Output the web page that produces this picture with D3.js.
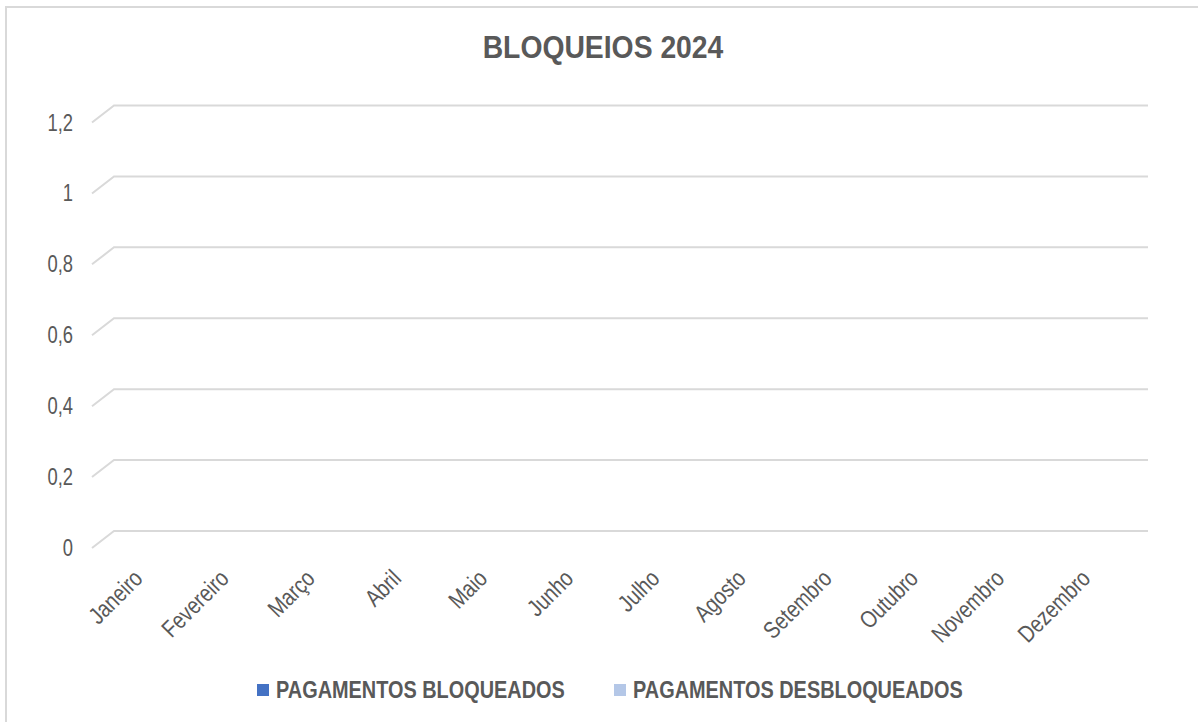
<!DOCTYPE html>
<html lang="pt">
<head>
<meta charset="utf-8">
<title>Bloqueios 2024</title>
<script src="https://cdn.jsdelivr.net/npm/d3@7"></script>
<style>
  html, body { margin: 0; padding: 0; background: #fff; }
  svg text { font-family: "Liberation Sans Narrow", "Arial Narrow", "Liberation Sans", Arial, sans-serif; fill: #595959; }
</style>
</head>
<body>
<script>
// chart data (the 2024 sheet is empty: every month is zero)
var months = ["Janeiro", "Fevereiro", "Março", "Abril", "Maio", "Junho",
              "Julho", "Agosto", "Setembro", "Outubro", "Novembro", "Dezembro"];
var seriesNames = ["PAGAMENTOS BLOQUEADOS", "PAGAMENTOS DESBLOQUEADOS"];
var seriesColors = ["#4472C4", "#B4C7E7"];
var bloqueados = [0, 0, 0, 0, 0, 0, 0, 0, 0, 0, 0, 0];
var desbloqueados = [0, 0, 0, 0, 0, 0, 0, 0, 0, 0, 0, 0];
var yTicks = [0, 0.2, 0.4, 0.6, 0.8, 1, 1.2];

var w = 1198, h = 722;
// 3d depth offset of the back wall
var depthX = 22, depthY = -17;
// no narrow font installed, so squeeze the text horizontally
var narrow = 0.82;

var svg = d3.select("body").append("svg")
    .attr("width", w)
    .attr("height", h);

// outer frame
svg.append("rect")
    .attr("x", 6).attr("y", 7)
    .attr("width", w + 10).attr("height", h + 10)
    .attr("fill", "none")
    .attr("stroke", "#d9d9d9")
    .attr("stroke-width", 2);

// title
svg.append("text")
    .attr("transform", "translate(603,58) scale(0.885,1)")
    .attr("text-anchor", "middle")
    .attr("font-size", 32)
    .attr("font-weight", "bold")
    .text("BLOQUEIOS 2024");

var x = d3.scaleBand()
    .domain(months)
    .range([92, 1126]);

var y = d3.scaleLinear()
    .domain([0, 1.2])
    .range([548, 122.5]);

// gridlines on floor edge + back wall
svg.append("g").selectAll("path")
    .data(yTicks)
    .enter().append("path")
    .attr("d", function(d) {
        var yy = y(d);
        return "M" + x.range()[0] + "," + yy +
               "L" + (x.range()[0] + depthX) + "," + (yy + depthY) +
               "L" + (x.range()[1] + depthX) + "," + (yy + depthY);
    })
    .attr("fill", "none")
    .attr("stroke", "#d9d9d9")
    .attr("stroke-width", 2);

// y labels
var fmt = function(d) { return String(d).replace(".", ","); };
svg.append("g").selectAll("text")
    .data(yTicks)
    .enter().append("text")
    .attr("transform", function(d) { return "translate(73," + y(d) + ") scale(0.8,1)"; })
    .attr("dy", "0.35em")
    .attr("text-anchor", "end")
    .attr("font-size", 23)
    .text(fmt);

// columns (all zero height)
var inner = d3.scaleBand()
    .domain(seriesNames)
    .range([0, x.bandwidth()])
    .paddingInner(0.1)
    .paddingOuter(0.6);
var rows = months.map(function(m, i) {
    return { month: m, values: [bloqueados[i], desbloqueados[i]] };
});
var grp = svg.append("g").selectAll("g")
    .data(rows)
    .enter().append("g")
    .attr("transform", function(d) { return "translate(" + x(d.month) + ",0)"; });
grp.selectAll("rect")
    .data(function(d) { return d.values; })
    .enter().append("rect")
    .attr("x", function(d, i) { return inner(seriesNames[i]); })
    .attr("width", inner.bandwidth())
    .attr("y", function(d) { return y(d); })
    .attr("height", function(d) { return y(0) - y(d); })
    .attr("fill", function(d, i) { return seriesColors[i]; });

// month labels
svg.append("g").selectAll("text")
    .data(months)
    .enter().append("text")
    .attr("transform", function(d) {
        return "translate(" + (x(d) + x.bandwidth() / 2 + 3) + ",574) rotate(-45) scale(" + narrow + ",1)";
    })
    .attr("dy", "0.35em")
    .attr("text-anchor", "end")
    .attr("font-size", 24)
    .text(function(d) { return d; });

// legend
var legendX = [257, 614];
var lg = svg.append("g").selectAll("g")
    .data(seriesNames)
    .enter().append("g")
    .attr("transform", function(d, i) { return "translate(" + legendX[i] + ",684)"; });
lg.append("rect")
    .attr("width", 12).attr("height", 12)
    .attr("fill", function(d, i) { return seriesColors[i]; });
lg.append("text")
    .attr("transform", "translate(19,6) scale(0.865,1)")
    .attr("dy", "0.35em")
    .attr("font-size", 23)
    .attr("font-weight", "bold")
    .text(function(d) { return d; });
</script>
</body>
</html>
